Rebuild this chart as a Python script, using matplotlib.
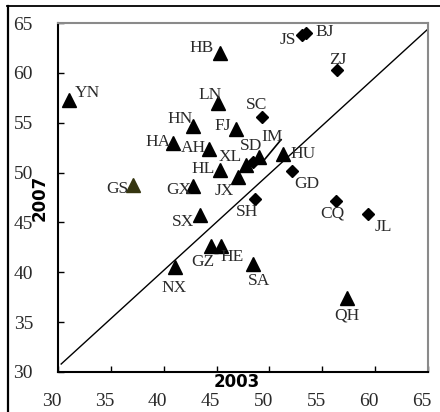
import matplotlib
matplotlib.use("Agg")
import matplotlib.pyplot as plt
from matplotlib.lines import Line2D
from matplotlib.transforms import ScaledTranslation

# ---- data ----
tri_names = ["YN", "HB", "LN", "HN", "FJ", "HA", "AH", "HL", "GX", "XL", "JX",
             "IM", "HU", "SX", "GZ", "HE", "NX", "SA", "QH"]
tri_x = [31.0, 45.3, 45.1, 42.8, 46.8, 40.9, 44.3, 45.3, 42.8, 47.8, 47.0,
         49.0, 51.3, 43.4, 44.5, 45.4, 41.1, 48.4, 57.3]
tri_y = [57.3, 62.0, 57.0, 54.7, 54.4, 53.0, 52.4, 50.3, 48.7, 50.8, 49.6,
         51.6, 51.9, 45.7, 42.6, 42.6, 40.5, 40.8, 37.4]

dia_names = ["JS", "BJ", "ZJ", "SC", "SD", "GD", "SH", "CQ", "JL"]
dia_x = [53.1, 53.5, 56.4, 49.3, 48.4, 52.1, 48.6, 56.3, 59.3]
dia_y = [63.8, 64.0, 60.3, 55.6, 51.1, 50.2, 47.3, 47.1, 45.8]

gs_names = ["GS"]
gs_x = [37.1]
gs_y = [48.8]

ref_x = [30.3, 65.0]
ref_y = [30.8, 64.4]
leader_x = [49.3, 51.1]
leader_y = [51.0, 53.3]

xticks = [30, 35, 40, 45, 50, 55, 60, 65]
yticks = [30, 35, 40, 45, 50, 55, 60, 65]
xlabel = "2003"
ylabel = "2007"

# label offsets in pixels (dx right, dy down)
offsets = {
    "YN": (19, -7), "HB": (-18, -5), "LN": (-8, -8), "HN": (-13, -7),
    "FJ": (-13, -3), "HA": (-15, -1), "AH": (-16, -1), "HL": (-17, -1),
    "GX": (-15, 4), "XL": (-16, -8), "JX": (-13, 14), "IM": (13, -20),
    "HU": (20, 0), "SX": (-17, 7), "GZ": (-8, 16), "HE": (11, 11),
    "NX": (-1, 21), "SA": (6, 17), "QH": (0, 17),
    "JS": (-14, 5), "BJ": (18, -1), "ZJ": (1, -10), "SC": (-5, -12),
    "SD": (-1, -16), "GD": (15, 13), "SH": (-8, 13), "CQ": (-4, 12),
    "JL": (16, 13), "GS": (-16, 4),
}

W, H = 440, 412
fig = plt.figure(figsize=(W / 100, H / 100), dpi=100)
ax = fig.add_axes([58 / W, (H - 372) / H, (428 - 58) / W, (372 - 23) / H])

serif = "Liberation Serif"
txt_color = "#2a2a2a"

ax.plot(ref_x, ref_y, color="black", lw=1.0, zorder=2)
ax.plot(leader_x, leader_y, color="black", lw=1.2, zorder=2)

ax.plot(tri_x, tri_y, linestyle="none", marker="^", ms=9.5, color="black", zorder=3)
ax.plot(dia_x, dia_y, linestyle="none", marker="D", ms=6.5, color="black", zorder=3)
ax.plot(gs_x, gs_y, linestyle="none", marker="^", ms=9.5, color="#353510", zorder=3)

for names, xs, ys in [(tri_names, tri_x, tri_y), (dia_names, dia_x, dia_y), (gs_names, gs_x, gs_y)]:
    for n, x, y in zip(names, xs, ys):
        dx, dy = offsets[n]
        ax.annotate(n, (x, y), xytext=(dx, -dy), textcoords="offset pixels",
                    ha="center", va="center", fontsize=12.5, family=serif, color=txt_color)

ax.set_xlim(30, 65)
ax.set_ylim(30, 65)
ax.set_xticks(xticks)
ax.set_yticks(yticks)
ax.set_xticklabels([str(t) for t in xticks], family=serif, fontsize=14, color=txt_color)
ax.set_yticklabels([str(t) for t in yticks], family=serif, fontsize=14, color=txt_color)
ax.tick_params(axis="both", direction="in", length=4, width=1, color="black")
ax.tick_params(axis="y", pad=18)
ax.tick_params(axis="x", pad=15)
for lab in ax.get_xticklabels():
    lab.set_transform(lab.get_transform() + ScaledTranslation(-6 / 100, 0, fig.dpi_scale_trans))

for side in ["left", "bottom"]:
    ax.spines[side].set_color("black")
    ax.spines[side].set_linewidth(1.5)
for side in ["top", "right"]:
    ax.spines[side].set_color("#8a8a8a")
    ax.spines[side].set_linewidth(1.5)

ax.text((237 - 58) / 370, -(382 - 372) / 349, xlabel, transform=ax.transAxes,
        ha="center", va="center", fontsize=12, fontweight="bold", family="DejaVu Sans")
ax.text((40 - 58) / 370, (372 - 198) / 349, ylabel, transform=ax.transAxes, rotation=90,
        ha="center", va="center", fontsize=12, fontweight="bold", family="DejaVu Sans")

# outer border (left and top)
fig.add_artist(Line2D([7.5 / W, 7.5 / W], [0, 1 - 6 / H], color="black", lw=1.6))
fig.add_artist(Line2D([7 / W, 1], [1 - 6 / H, 1 - 6 / H], color="black", lw=1.3))

fig.savefig("out.png", dpi=100)
